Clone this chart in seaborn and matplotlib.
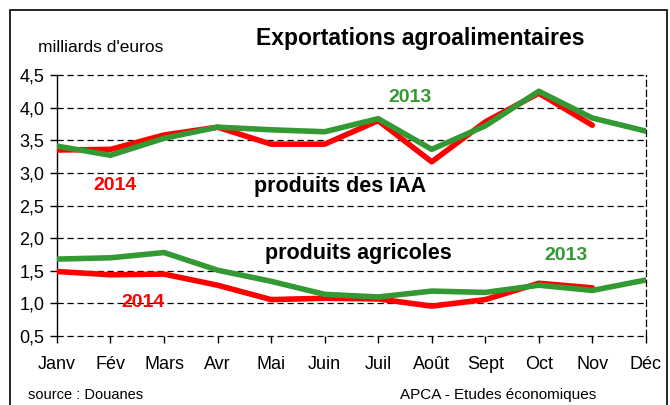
import pandas as pd
import matplotlib.pyplot as plt
import seaborn as sns
from matplotlib.patches import Rectangle

months = ['Janv', 'Fév', 'Mars', 'Avr', 'Mai', 'Juin', 'Juil', 'Août', 'Sept', 'Oct', 'Nov', 'Déc']

# milliards d'euros
iaa_2013 = [3.41, 3.27, 3.53, 3.70, 3.66, 3.63, 3.83, 3.36, 3.72, 4.25, 3.84, 3.64]
iaa_2014 = [3.35, 3.36, 3.58, 3.70, 3.44, 3.44, 3.80, 3.17, 3.78, 4.22, 3.73]
agri_2013 = [1.68, 1.70, 1.78, 1.51, 1.34, 1.14, 1.10, 1.19, 1.17, 1.28, 1.20, 1.36]
agri_2014 = [1.49, 1.44, 1.45, 1.28, 1.06, 1.08, 1.07, 0.96, 1.06, 1.31, 1.24]

yticks = [0.5, 1.0, 1.5, 2.0, 2.5, 3.0, 3.5, 4.0, 4.5]

def to_long(values, serie, annee):
    return pd.DataFrame({'mois': range(len(values)), 'valeur': values,
                         'serie': serie, 'annee': annee})

df = pd.concat([to_long(iaa_2014, 'iaa14', '2014'), to_long(agri_2014, 'agri14', '2014'),
                to_long(iaa_2013, 'iaa13', '2013'), to_long(agri_2013, 'agri13', '2013')],
               ignore_index=True)

sns.set_style('white', {'text.color': 'black', 'xtick.color': 'black',
                        'ytick.color': 'black', 'axes.labelcolor': 'black'})
plt.rcParams['font.family'] = ['Liberation Sans', 'DejaVu Sans']

fig = plt.figure(figsize=(6.7, 4.05), dpi=100)
ax = fig.add_axes([0.085, 0.170, 0.879, 0.645])

green = '#339933'
red = '#ff0000'
colors = {'iaa14': red, 'agri14': red, 'iaa13': green, 'agri13': green}
sns.lineplot(data=df, x='mois', y='valeur', hue='serie', units='serie', estimator=None,
             palette=colors, linewidth=4, legend=False, ax=ax, zorder=3)

ax.set_xlim(0, 11)
ax.set_ylim(0.5, 4.5)
ax.set_xticks(range(12))
ax.set_xticklabels(months, fontsize=13, color='black')
ax.set_yticks(yticks)
ax.set_yticklabels([f'{v:.1f}'.replace('.', ',') for v in yticks], fontsize=13, color='black')
ax.set_xlabel('')
ax.set_ylabel('')
ax.tick_params(axis='both', length=5, width=1, color='black', direction='out',
               bottom=True, left=True)
ax.tick_params(axis='x', pad=9)
ax.tick_params(axis='y', pad=4)

for v in yticks:
    ax.axhline(v, color='black', linestyle=(0, (5, 3)), linewidth=0.9, zorder=1, clip_on=False)
ax.spines['left'].set_color('black')
ax.spines['left'].set_linewidth(1)
ax.spines['bottom'].set_visible(False)
ax.spines['top'].set_visible(False)
ax.spines['right'].set_color('black')
ax.spines['right'].set_linestyle((0, (5, 3)))
ax.spines['right'].set_linewidth(0.9)
for s in ax.spines.values():
    s.set_clip_on(False)

ax.text(6.6, 4.16, '2013', color=green, fontsize=14, fontweight='bold', ha='center', va='center')
ax.text(1.08, 2.81, '2014', color=red, fontsize=14, fontweight='bold', ha='center', va='center')
ax.text(5.29, 2.79, 'produits des IAA', color='black', fontsize=15.5, fontweight='bold',
        ha='center', va='center')
ax.text(5.63, 1.77, 'produits agricoles', color='black', fontsize=15.5, fontweight='bold',
        ha='center', va='center')
ax.text(9.5, 1.74, '2013', color=green, fontsize=14, fontweight='bold', ha='center', va='center')
ax.text(1.6, 1.02, '2014', color=red, fontsize=14, fontweight='bold', ha='center', va='center')

fig.text(0.627, 0.905, 'Exportations agroalimentaires', fontsize=16.5, fontweight='bold',
         ha='center', va='center', color='black')
fig.text(0.057, 0.882, "milliards d'euros", fontsize=12.5, ha='left', va='center', color='black')
fig.text(0.042, 0.025, 'source : Douanes', fontsize=10.5, ha='left', va='center', color='black')
fig.text(0.597, 0.025, 'APCA - Etudes économiques', fontsize=11, ha='left', va='center',
         color='black')

fig.patches.append(Rectangle((0.015, -0.01), 0.98, 0.985, transform=fig.transFigure,
                             fill=False, edgecolor='black', linewidth=1.2))

fig.savefig('out.png', dpi=100)
